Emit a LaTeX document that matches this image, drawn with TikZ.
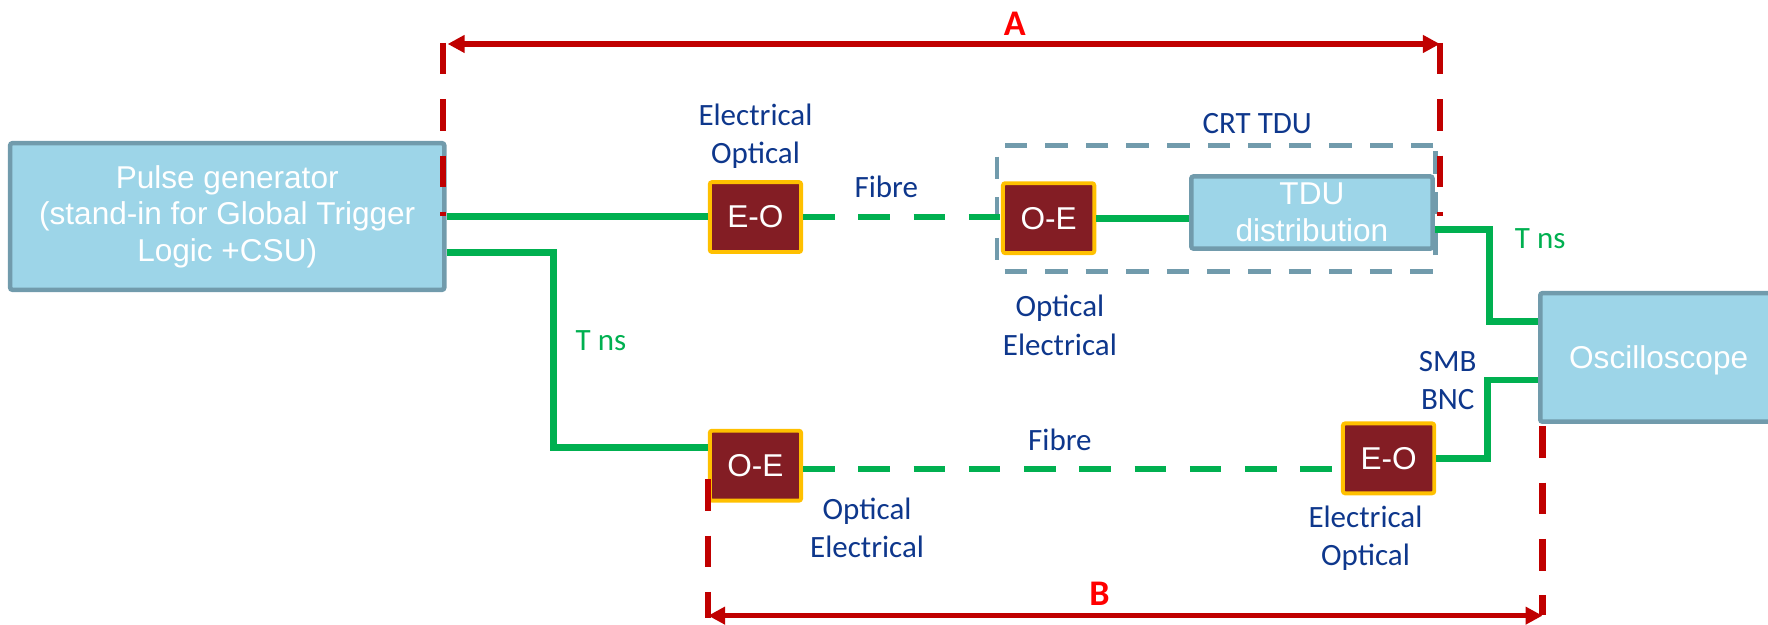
\documentclass[tikz,border=0pt]{standalone}
\usepackage{fontspec}
\setmainfont{Carlito}
\newfontfamily\arialf{Liberation Sans}
\usetikzlibrary{arrows.meta,calc}
\definecolor{boxfill}{RGB}{157,213,232}
\definecolor{boxline}{RGB}{113,155,172}
\definecolor{grn}{RGB}{0,176,80}
\definecolor{convfill}{RGB}{131,29,36}
\definecolor{gold}{RGB}{255,192,0}
\definecolor{dred}{RGB}{192,0,0}
\definecolor{lblue}{RGB}{14,55,140}
\definecolor{bred}{RGB}{255,0,0}
\tikzset{
  bigbox/.style={draw=boxline, fill=boxfill, line width=4pt, rounded corners=2pt, text=white,
    font=\arialf\fontsize{28}{32.5}\selectfont, align=center, inner sep=0pt},
  conv/.style={draw=gold, fill=convfill, line width=3.5pt, rounded corners=2pt, text=white,
    font=\arialf\fontsize{28}{32}\selectfont, inner sep=0pt, minimum width=81, minimum height=62},
  lbl/.style={text=lblue, font=\fontsize{27.5}{34}\selectfont, align=center, inner sep=0pt},
  glbl/.style={text=grn, font=\fontsize{27.5}{34}\selectfont, inner sep=0pt},
  rlbl/.style={text=bred, font=\bfseries\fontsize{32}{36}\selectfont, inner sep=0pt},
  wire/.style={draw=grn, line width=6pt},
  fibre/.style={wire, dash pattern=on 28pt off 21pt},
  dimline/.style={draw=dred, line width=5.5pt, dash pattern=on 28pt off 22pt},
  meas/.style={draw=dred, line width=4.5pt, {Triangle[length=15pt,width=15pt]}-{Triangle[length=15pt,width=15pt]}},
  grpbox/.style={draw=boxline, line width=4pt, dash pattern=on 20pt off 16pt, rounded corners=2pt,
    inner sep=0pt, minimum width=389, minimum height=112}
}
\begin{document}
\begin{tikzpicture}[x=1pt,y=-1pt]
\useasboundingbox (0,0) rectangle (1568,554);

% group box
\node[grpbox] (crt) at (1078.5,185) {};
\node[lbl] (crtl) at (1115,110) {CRT TDU};

% main boxes
\node[bigbox, minimum width=385, minimum height=130] (pg) at (201.5,192)
  {Pulse generator\\(stand-in for Global Trigger\\Logic +CSU)};
\node[bigbox, minimum width=214, minimum height=64] (tdu) at (1163.5,188.5) {TDU\\distribution};
\node[bigbox, minimum width=210, minimum height=114, text depth=0pt] (osc) at (1471,317) {Oscilloscope};

% converters
\node[conv] (eo1) at (670,192.5) {E-O};
\node[conv] (oe1) at (930,193.5) {O-E};
\node[conv] (oe2) at (670,413) {O-E};
\node[conv] (eo2) at (1231.5,406.5) {E-O};

% wires
\draw[wire] (pg.east) -- (pg.east -| eo1.west);
\draw[fibre] (eo1.east) -- (eo1.east -| oe1.west);
\draw[wire] (oe1.east) -- (oe1.east -| tdu.west);
\draw[wire] ($(pg.east)+(0,32)$) -| (491,397) -- ($(oe2.west)+(0,-16)$);
\draw[fibre] ($(oe2.east)+(0,3)$) -- ($(eo2.west)+(0,9.5)$);
\draw[wire] ($(tdu.east)+(0,15)$) -| (1321,285) -- ($(osc.west)+(0,-32)$);
\draw[wire] (eo2.east) -| (1319,337) -- ($(osc.west)+(0,20)$);

% labels
\node[lbl] (l1) at (670,121) {Electrical\\Optical};
\node[lbl] (l2) at (786,166) {Fibre};
\node[lbl] (l3) at (940,288.5) {Optical\\Electrical};
\node[lbl] (l4) at (940,390) {Fibre};
\node[lbl] (l5) at (769,468) {Optical\\Electrical};
\node[lbl] (l6) at (1211,477.5) {Electrical\\Optical};
\node[lbl] (l7) at (1284,337.5) {SMB\\BNC};
\node[glbl] (t1) at (533,302) {T ns};
\node[glbl] (t2) at (1366,212) {T ns};

% dimension A
\coordinate (aL) at (393,38);
\coordinate (aR) at (1277,38);
\draw[dimline] (aL) -- (aL |- pg.east);
\draw[dimline] (aR) -- (aR |- pg.east);
\draw[meas, shorten <=4pt] ($(aL)+(0,1)$) -- ($(aR)+(0,1)$);
\node[rlbl] (A) at (900,21) {A};

% dimension B
\coordinate (bL) at (628,425);
\coordinate (bR) at (1368,378);
\coordinate (bLe) at (628,548);
\coordinate (bRe) at (1368,545);
\draw[dimline] (bL) -- (bLe);
\draw[dimline] (bR) -- (bRe);
\draw[meas] (bL |- 0,546) -- (bR |- 0,546);
\node[rlbl] (B) at (975,527) {B};
\end{tikzpicture}
\end{document}
